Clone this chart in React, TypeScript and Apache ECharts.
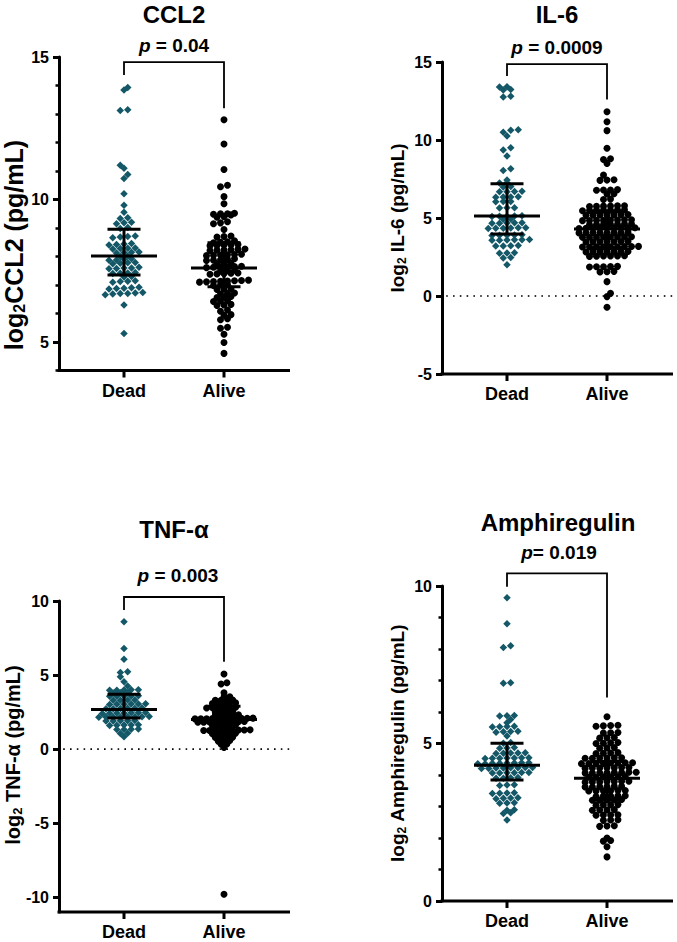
import React, { useEffect, useRef } from "react";
import * as echarts from "echarts";

// ---------------- data ----------------
const groups = ["Dead", "Alive"];
const titles = ["CCL2", "IL-6", "TNF-α", "Amphiregulin"];
const pTexts = ["{i|p}{n| = 0.04}", "{i|p}{n| = 0.0009}", "{i|p}{n| = 0.003}", "{i|p}{n|= 0.019}"];
const yNames = [
  ["log", "CCL2 (pg/mL)"],
  ["log", " IL-6 (pg/mL)"],
  ["log", " TNF-α (pg/mL)"],
  ["log", " Amphiregulin (pg/mL)"],
];

const ccl2Dead = [13.93, 13.84, 13.15, 13.12, 11.2, 11.1, 10.88, 10.74, 10.2, 9.8, 9.55, 9.36, 9.33, 9.2, 9.18, 9.15,
  9.02, 8.98, 8.72, 8.7, 8.68, 8.66, 8.46, 8.44, 8.42, 8.4, 8.3, 8.29, 8.28, 8.26, 8.16, 8.15, 8.14, 8.12,
  8.02, 8.0, 7.92, 7.9, 7.88, 7.87, 7.79, 7.78, 7.76, 7.75, 7.62, 7.6, 7.6, 7.58, 7.57, 7.44, 7.42, 7.41, 7.4,
  7.3, 7.28, 7.15, 7.13, 7.12, 7.1, 6.92, 6.9, 6.89, 6.88, 6.86, 6.74, 6.72, 6.7, 6.7, 6.68, 6.66, 6.3, 5.3];
const ccl2Alive = [12.8, 11.95, 11.05, 10.5, 10.45, 10.1, 9.85, 9.52, 9.5, 9.5, 9.48, 9.46, 9.4, 9.38, 9.22, 9.18, 9.15,
  8.95, 8.72, 8.7, 8.68, 8.55, 8.52, 8.5, 8.48, 8.42, 8.41, 8.4, 8.39, 8.38, 8.26, 8.25, 8.24, 8.23, 8.22, 8.21,
  8.08, 8.07, 8.06, 8.05, 8.04, 8.03, 7.92, 7.9, 7.88, 7.87, 7.86, 7.76, 7.75, 7.74, 7.66, 7.65, 7.64, 7.63, 7.62,
  7.61, 7.52, 7.5, 7.48, 7.42, 7.41, 7.4, 7.39, 7.38, 7.17, 7.16, 7.15, 7.14, 7.13, 7.12, 7.11, 7.1, 7.02, 7.0, 6.98,
  6.86, 6.85, 6.84, 6.72, 6.7, 6.68, 6.6, 6.58, 6.56, 6.46, 6.44, 6.42, 6.32, 6.3, 6.28, 6.12, 6.08, 5.96, 5.94,
  5.82, 5.78, 5.52, 5.48, 5.27, 4.98, 4.6];

const il6Dead = [13.42, 13.4, 13.24, 13.2, 12.8, 12.75, 10.66, 10.63, 10.5, 10.25, 9.5, 9.36, 8.97, 8.15, 8.05, 7.43,
  7.26, 7.24, 7.02, 6.98, 6.72, 6.7, 6.69, 6.68, 6.36, 6.35, 6.34, 6.33, 6.06, 6.05, 6.04, 5.66, 5.65, 5.64, 5.14,
  5.13, 5.12, 5.11, 5.1, 4.94, 4.92, 4.7, 4.69, 4.68, 4.67, 4.66, 4.38, 4.37, 4.36, 4.35, 4.34, 4.33, 3.92, 3.91,
  3.9, 3.89, 3.88, 3.62, 3.61, 3.6, 3.59, 3.58, 3.57, 3.24, 3.22, 3.21, 3.2, 2.78, 2.76, 2.74, 2.46, 2.44, 2.0];
const il6Alive = [11.81, 11.17, 10.6, 9.47, 8.8, 8.75, 8.5, 7.75, 7.45, 7.43, 7.41, 6.82, 6.8, 6.79, 6.78, 6.56, 6.54,
  6.21, 6.19, 5.79, 5.78, 5.77, 5.76, 5.75, 5.74, 5.52, 5.51, 5.5, 5.5, 5.49, 5.48, 5.47, 5.22, 5.21, 5.2, 5.2, 5.19,
  5.18, 5.17, 4.89, 4.88, 4.87, 4.87, 4.86, 4.85, 4.84, 4.83, 4.62, 4.61, 4.6, 4.6, 4.59, 4.58, 4.57, 4.38, 4.37,
  4.37, 4.36, 4.36, 4.35, 4.35, 4.34, 4.33, 4.08, 4.07, 4.07, 4.06, 4.06, 4.05, 4.05, 4.04, 3.8, 3.79, 3.79, 3.78,
  3.78, 3.77, 3.77, 3.76, 3.5, 3.49, 3.48, 3.48, 3.47, 3.47, 3.46, 3.18, 3.17, 3.17, 3.16, 3.16, 3.15, 3.15, 3.14,
  3.14, 2.86, 2.85, 2.84, 2.84, 2.83, 2.83, 2.82, 2.58, 2.57, 2.56, 2.56, 2.55, 2.54, 1.9, 1.89, 1.88, 1.87, 1.86,
  1.58, 1.56, 1.54, 0.92, 0.17, -0.04, -0.72];

const tnfDead = [8.6, 6.8, 6.06, 5.22, 5.18, 4.89, 4.55, 4.26, 4.01, 4.0, 3.99, 3.98, 3.97, 3.81, 3.8, 3.79, 3.6, 3.59,
  3.58, 3.57, 3.56, 3.32, 3.31, 3.3, 3.29, 3.06, 3.05, 3.04, 3.03, 3.02, 3.01, 2.77, 2.76, 2.75, 2.74, 2.73, 2.72,
  2.47, 2.46, 2.45, 2.44, 2.43, 2.42, 2.41, 2.2, 2.19, 2.18, 2.18, 2.17, 2.17, 2.16, 2.15, 1.93, 1.92, 1.91, 1.9,
  1.89, 1.64, 1.63, 1.62, 1.61, 1.6, 1.35, 1.34, 1.33, 1.32, 1.07, 1.05, 0.83];
const tnfAlive = [5.07, 4.48, 4.4, 3.8, 3.54, 3.52, 3.32, 3.31, 3.3, 3.29, 3.12, 3.11, 3.1, 3.09, 3.08, 2.82, 2.81, 2.8,
  2.8, 2.79, 2.78, 2.53, 2.52, 2.51, 2.5, 2.31, 2.3, 2.3, 2.29, 2.28, 2.09, 2.08, 2.08, 2.07, 2.07, 2.07, 2.06, 2.06,
  2.05, 2.05, 2.04, 1.86, 1.85, 1.85, 1.84, 1.84, 1.83, 1.83, 1.82, 1.82, 1.64, 1.63, 1.62, 1.61, 1.6, 1.3, 1.29,
  1.29, 1.28, 1.28, 1.27, 1.27, 1.26, 1.26, 1.08, 1.07, 1.06, 1.05, 1.04, 0.81, 0.8, 0.79, 0.78, 0.58, 0.56, 0.54,
  0.35, 0.33, 0.11, -9.8];

const amphDead = [9.63, 8.8, 8.1, 8.05, 6.93, 6.91, 5.89, 5.88, 5.87, 5.76, 5.66, 5.55, 5.54, 5.53, 5.52, 5.39, 5.38,
  5.37, 5.36, 5.24, 5.03, 5.01, 4.87, 4.86, 4.85, 4.71, 4.7, 4.7, 4.69, 4.68, 4.55, 4.55, 4.54, 4.54, 4.53, 4.53,
  4.52, 4.39, 4.39, 4.38, 4.38, 4.37, 4.37, 4.36, 4.36, 4.24, 4.24, 4.23, 4.23, 4.22, 4.22, 4.21, 4.21, 4.08, 4.08,
  4.07, 4.07, 4.06, 4.06, 3.92, 3.91, 3.9, 3.9, 3.69, 3.68, 3.67, 3.44, 3.43, 3.42, 3.41, 3.28, 3.27, 3.26, 3.25,
  3.12, 3.11, 3.1, 2.9, 2.88, 2.8, 2.78, 2.57];
const amphAlive = [5.85, 5.58, 5.57, 5.56, 5.55, 5.35, 5.34, 5.33, 5.19, 5.18, 5.17, 5.03, 5.02, 5.01, 5.0, 4.87, 4.86,
  4.85, 4.71, 4.7, 4.69, 4.68, 4.55, 4.55, 4.54, 4.54, 4.53, 4.53, 4.39, 4.39, 4.38, 4.38, 4.37, 4.37, 4.36, 4.36,
  4.24, 4.24, 4.23, 4.23, 4.22, 4.22, 4.21, 4.09, 4.09, 4.08, 4.08, 4.07, 4.07, 4.06, 4.06, 3.95, 3.95, 3.94, 3.94,
  3.93, 3.93, 3.8, 3.8, 3.79, 3.79, 3.78, 3.78, 3.77, 3.64, 3.64, 3.63, 3.63, 3.62, 3.62, 3.51, 3.51, 3.5, 3.5, 3.49,
  3.49, 3.34, 3.34, 3.33, 3.33, 3.32, 3.22, 3.21, 3.21, 3.2, 3.2, 3.06, 3.05, 3.05, 3.04, 2.9, 2.89, 2.89, 2.88,
  2.74, 2.73, 2.73, 2.72, 2.58, 2.57, 2.56, 2.39, 2.38, 2.37, 2.0, 1.92, 1.9, 1.72, 1.4];

// [median, q1, q3] per group: Dead, Alive
const ccl2Stats = [[8.02, 7.35, 8.96], [7.6, 6.94, 8.48]];
const il6Stats = [[5.13, 3.97, 7.2], [4.3, 3.1, 5.45]];
const tnfStats = [[2.68, 2.1, 3.7], [2.0, 1.25, 2.9]];
const amphStats = [[4.31, 3.84, 5.01], [3.9, 3.2, 4.43]];

// bracket: [top, dead leg end, alive leg end]
const brackets = [[14.82, 14.37, 13.2], [14.87, 14.1, 12.6], [10.27, 9.4, 5.9], [10.4, 9.98, 6.46]];

// y axis ranges and labelled ticks
const yMins = [4, -5, -11, 0];
const yMaxs = [15, 15, 10, 10];
const yTicks = [[5, 10, 15], [-5, 0, 5, 10, 15], [-10, -5, 0, 5, 10], [0, 5, 10]];

const deadVals = [ccl2Dead, il6Dead, tnfDead, amphDead];
const aliveVals = [ccl2Alive, il6Alive, tnfAlive, amphAlive];
const stats = [ccl2Stats, il6Stats, tnfStats, amphStats];

// ---------------- layout / style ----------------
const FONT = '"Liberation Sans", Arial, Helvetica, sans-serif';
const TEAL = "#145868";
const GRID_W = 231;
const groupX = [65, 165]; // px units along x axis
const grids = [
  { left: 59, top: 57, width: GRID_W, height: 313.5 },
  { left: 442, top: 62, width: GRID_W, height: 312 },
  { left: 59, top: 601, width: GRID_W, height: 311 },
  { left: 442, top: 586, width: GRID_W, height: 315 },
];
const minorTicks = [true, false, false, true];
const zeroLine = [false, true, true, false];
const titlePos = [[174, 14], [557, 14], [174, 529], [558, 522]];
const pPos = [[174, 45], [557, 47], [178, 575], [559, 552]];
const yNamePos = [[14, 245], [397, 218], [13, 755], [397, 743]];
const yNameSize = [25, 19, 20, 19];
const deadSpacing = [7.5, 7.5, 7.2, 7.3];
const aliveSpacing = [7, 7, 5.8, 7.3];
const DOT_STEP = 6.8;

// Prism-like row layout: points binned into rows, each row centred; close rows staggered
function rowLayout(values: number[], pxPerUnit: number, spacing: number, symbol: number): number[] {
  const idx = values.map((_, i) => i).sort((a, b) => values[a] - values[b]);
  const out: number[] = new Array(values.length).fill(0);
  const rows: number[][] = [];
  let start = -Infinity;
  for (const i of idx) {
    const py = values[i] * pxPerUnit;
    if (py - start > 2.5) {
      rows.push([i]);
      start = py;
    } else rows[rows.length - 1].push(i);
  }
  let prevY = -Infinity, prevN = -1, prevShift = 0, dir = 1;
  for (const r of rows) {
    const y = values[r[0]] * pxPerUnit;
    const n = r.length;
    let shift = 0;
    if (y - prevY < symbol && prevShift === 0 && n % 2 === prevN % 2) {
      shift = dir * spacing / 2;
      dir = -dir;
    }
    r.forEach((i, j) => { out[i] = (j - (n - 1) / 2) * spacing + shift; });
    prevY = y; prevN = n; prevShift = shift;
  }
  return out;
}

const axisStyle = { color: "#000", width: 3 };
const labelBase = { color: "#000", fontFamily: FONT, fontWeight: "bold" as const };

export default function App() {
  const ref = useRef<HTMLDivElement>(null);
  useEffect(() => {
    if (!ref.current) return;
    const chart = echarts.init(ref.current, undefined, { renderer: "svg" });

    const xAxis: any[] = [];
    const yAxis: any[] = [];
    const series: any[] = [];
    const graphic: any[] = [];

    grids.forEach((g, k) => {
      const pxu = g.height / (yMaxs[k] - yMins[k]);
      xAxis.push({
        type: "value", gridIndex: k, min: 0, max: GRID_W, position: "bottom",
        axisLine: { show: false, onZero: false },
        axisTick: { show: false },
        axisLabel: {
          ...labelBase, fontSize: 18, margin: 11, customValues: groupX,
          formatter: (v: number) => groups[groupX.indexOf(v)] ?? "",
        },
        splitLine: { show: false },
      });
      const yMain = yAxis.length;
      yAxis.push({
        type: "value", gridIndex: k, min: yMins[k], max: yMaxs[k], position: "left",
        axisLine: { show: true, onZero: false, lineStyle: axisStyle },
        axisTick: { show: true, customValues: yTicks[k], length: 6, lineStyle: axisStyle },
        axisLabel: { ...labelBase, fontSize: 16, margin: 10, customValues: yTicks[k] },
        splitLine: { show: false },
      });
      if (minorTicks[k]) {
        yAxis.push({
          type: "value", gridIndex: k, min: yMins[k], max: yMaxs[k], interval: 1, position: "left",
          axisLine: { show: false, onZero: false },
          axisTick: { show: true, length: 3.5, lineStyle: { color: "#000", width: 2.5 } },
          axisLabel: { show: false },
          splitLine: { show: false },
        });
      }

      // x axis baseline and group ticks along the grid's bottom edge
      const by = g.top + g.height;
      graphic.push({
        type: "rect", z: 100,
        shape: { x: g.left - 1.5, y: by - 1.5, width: g.width + 1.5, height: 3 },
        style: { fill: "#000" },
      });
      groupX.forEach((gx) => {
        graphic.push({
          type: "rect", z: 100,
          shape: { x: g.left + gx - 1.5, y: by, width: 3, height: 7 },
          style: { fill: "#000" },
        });
      });

      if (zeroLine[k]) {
        // dotted reference line at y = 0, drawn as small square dots
        series.push({
          type: "custom", xAxisIndex: k, yAxisIndex: yMain, z: 1, silent: true, clip: false,
          data: [[0, GRID_W, 0]],
          renderItem: (_p: any, api: any) => {
            const a = api.coord([api.value(0), api.value(2)]);
            const b = api.coord([api.value(1), api.value(2)]);
            const children: any[] = [];
            for (let x = a[0] + 5; x < b[0]; x += DOT_STEP) {
              children.push({
                type: "rect",
                shape: { x: x - 0.8, y: a[1] - 0.8, width: 1.6, height: 1.6 },
                style: { fill: "#000" },
              });
            }
            return { type: "group", children };
          },
        });
      }

      const dOff = rowLayout(deadVals[k], pxu, deadSpacing[k], 7);
      const aOff = rowLayout(aliveVals[k], pxu, aliveSpacing[k], 7);
      series.push({
        type: "scatter", xAxisIndex: k, yAxisIndex: yMain,
        symbol: "diamond", symbolSize: 7.5,
        itemStyle: { color: TEAL, opacity: 1 },
        data: deadVals[k].map((v, i) => [groupX[0] + dOff[i], v]),
        silent: true, z: 2,
      });
      series.push({
        type: "scatter", xAxisIndex: k, yAxisIndex: yMain,
        symbol: "circle", symbolSize: 7,
        itemStyle: { color: "#000", opacity: 1 },
        data: aliveVals[k].map((v, i) => [groupX[1] + aOff[i], v]),
        silent: true, z: 2,
      });
      series.push({
        type: "custom", xAxisIndex: k, yAxisIndex: yMain, z: 5, silent: true,
        data: stats[k].map((s, gi) => [groupX[gi], s[0], s[1], s[2]]),
        renderItem: (_p: any, api: any) => {
          const x = api.value(0);
          const pm = api.coord([x, api.value(1)]);
          const p1 = api.coord([x, api.value(2)]);
          const p3 = api.coord([x, api.value(3)]);
          const st = { stroke: "#000", lineWidth: 3 };
          return {
            type: "group",
            children: [
              { type: "line", shape: { x1: pm[0] - 33, y1: pm[1], x2: pm[0] + 33, y2: pm[1] }, style: st },
              { type: "line", shape: { x1: p1[0], y1: p1[1], x2: p3[0], y2: p3[1] }, style: st },
              { type: "line", shape: { x1: p1[0] - 16.5, y1: p1[1], x2: p1[0] + 16.5, y2: p1[1] }, style: st },
              { type: "line", shape: { x1: p3[0] - 16.5, y1: p3[1], x2: p3[0] + 16.5, y2: p3[1] }, style: st },
            ],
          };
        },
      });
      series.push({
        type: "custom", xAxisIndex: k, yAxisIndex: yMain, z: 5, silent: true, clip: false,
        data: [[groupX[0], groupX[1], brackets[k][0], brackets[k][1], brackets[k][2]]],
        renderItem: (_p: any, api: any) => {
          const a = api.coord([api.value(0), api.value(3)]);
          const b = api.coord([api.value(0), api.value(2)]);
          const c = api.coord([api.value(1), api.value(2)]);
          const d = api.coord([api.value(1), api.value(4)]);
          return {
            type: "polyline",
            shape: { points: [a, b, c, d] },
            style: { stroke: "#000", lineWidth: 1.8, fill: "none" },
          };
        },
      });

      graphic.push({
        type: "text", x: titlePos[k][0], y: titlePos[k][1],
        style: {
          text: titles[k], fill: "#000", align: "center", verticalAlign: "middle",
          font: `bold 24px ${FONT}`,
        },
      });
      graphic.push({
        type: "text", x: pPos[k][0], y: pPos[k][1],
        style: {
          text: pTexts[k], fill: "#000", align: "center", verticalAlign: "middle",
          font: `bold 19px ${FONT}`,
          rich: {
            i: { fontSize: 19, fontWeight: "bold", fontStyle: "italic", fontFamily: FONT, fill: "#000" },
            n: { fontSize: 19, fontWeight: "bold", fontFamily: FONT, fill: "#000" },
          },
        },
      });
      const fs = yNameSize[k];
      graphic.push({
        type: "text", x: yNamePos[k][0], y: yNamePos[k][1], rotation: Math.PI / 2,
        style: {
          text: `{a|${yNames[k][0]}}{s|2}{a|${yNames[k][1]}}`,
          fill: "#000", align: "center", verticalAlign: "middle",
          font: `bold ${fs}px ${FONT}`,
          rich: {
            a: { fontSize: fs, fontWeight: "bold", fontFamily: FONT, fill: "#000", lineHeight: fs + 2 },
            s: {
              fontSize: Math.round(fs * 0.65), fontWeight: "bold", fontFamily: FONT, fill: "#000",
              lineHeight: Math.round(fs * 0.65), padding: [Math.round(fs * 0.45), 0, 0, 0],
            },
          },
        },
      });
    });

    chart.setOption({
      animation: false,
      backgroundColor: "#fff",
      grid: grids.map((g) => ({ ...g, containLabel: false })),
      xAxis,
      yAxis,
      series,
      graphic,
    });
    return () => chart.dispose();
  }, []);
  return (
    <div
      ref={ref}
      style={{ position: "absolute", left: 0, top: 0, width: 677, height: 942, background: "#fff" }}
    />
  );
}
